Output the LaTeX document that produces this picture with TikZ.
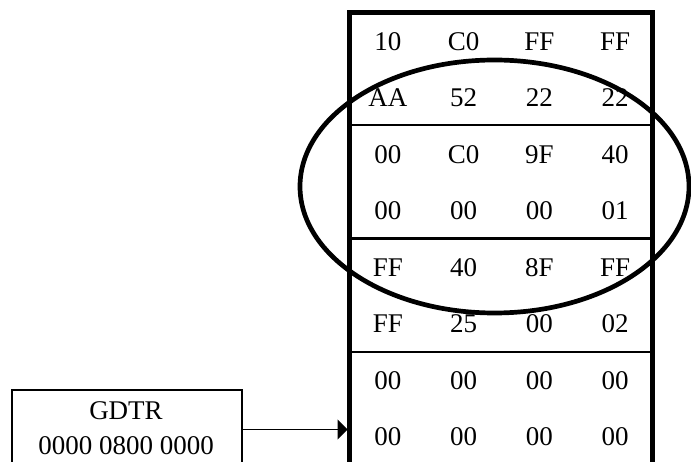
\documentclass[tikz,border=0pt]{standalone}
\usepackage{fontspec}
\setmainfont{Liberation Serif}
\usetikzlibrary{arrows.meta,shapes.geometric}
\begin{document}
\begin{tikzpicture}[x=1pt,y=-1pt,
  cell/.style={inner sep=0pt, anchor=center, font=\fontsize{27}{30}\selectfont},
  lbl/.style={inner sep=0pt, anchor=center, font=\fontsize{27}{30}\selectfont},
  frame/.style={draw=black, line width=5pt, inner sep=0pt, outer sep=0pt},
  sep/.style={draw=black, line width=2.5pt},
  gbox/.style={draw=black, line width=2.2pt, inner sep=0pt, outer sep=0pt},
  ring/.style={draw=black, line width=4.7pt},
  arr/.style={draw=black, line width=1.4pt, -{Triangle[length=10pt,width=20pt]}}]
\useasboundingbox (0,0) rectangle (691,462);
% memory table frame
\node[frame, minimum width=303pt, minimum height=520pt, anchor=north west] (tab) at (349.5,13) {};
% separators
\foreach \k/\y in {1/125,2/238.5,3/352}{
  \coordinate (sl\k) at (350,\y);
  \coordinate (sr\k) at (652,\y);
  \draw[sep] (sl\k) -- (sr\k);
}
% cells
\foreach \r/\a/\b/\c/\d in {0/10/C0/FF/FF,1/AA/52/22/22,2/00/C0/9F/40,3/00/00/00/01,4/FF/40/8F/FF,5/FF/25/00/02,6/00/00/00/00,7/00/00/00/00}{
  \pgfmathsetmacro{\yy}{41.25+56.5*\r}
  \node[cell] (c\r a) at (387.9,\yy) {\a};
  \node[cell] (c\r b) at (463.6,\yy) {\b};
  \node[cell] (c\r c) at (539.4,\yy) {\c};
  \node[cell] (c\r d) at (615.1,\yy) {\d};
}
% GDTR box
\node[gbox, minimum width=230pt, minimum height=110pt, anchor=north west] (gdtr) at (12,390) {};
\node[lbl] (gname) at (126,411) {GDTR};
\node[lbl] (gval) at (126,446) {0000 0800 0000};
% arrow
\coordinate (as) at (242,429.5);
\coordinate (ae) at (347.5,429.5);
\draw[arr] (as) -- (ae);
% ellipse
\node[ring, ellipse, minimum width=389pt, minimum height=253pt, inner sep=0pt] (ov) at (494.5,186.5) {};
\end{tikzpicture}
\end{document}
